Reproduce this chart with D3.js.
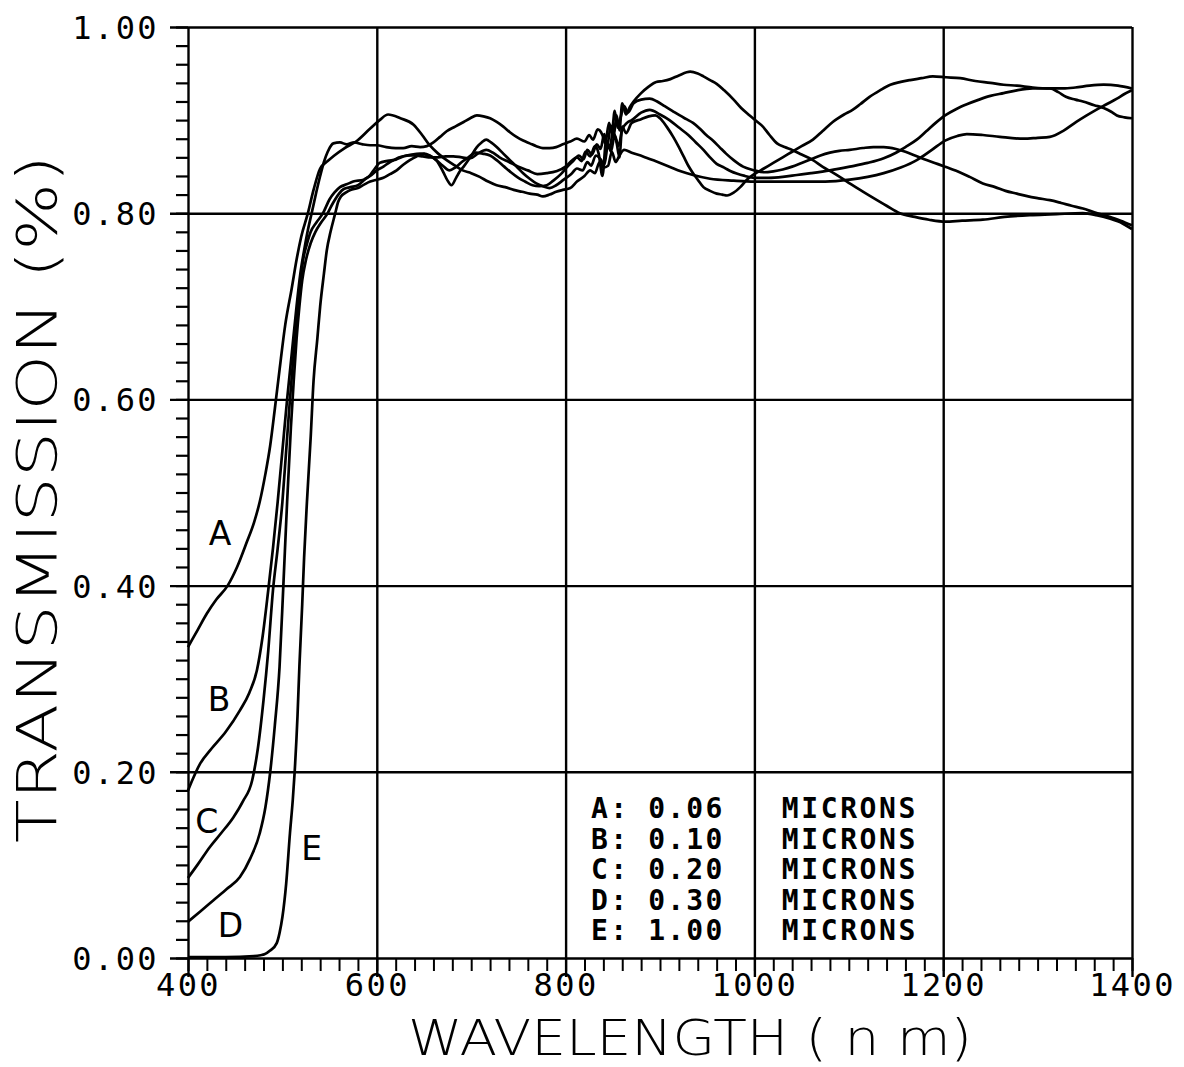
<!DOCTYPE html>
<html>
<head>
<meta charset="utf-8">
<script src="https://cdn.jsdelivr.net/npm/d3@7"></script>
<style>
  body { margin: 0; background: #fff; }
  svg { display: block; }
</style>
</head>
<body>
<svg id="chart" width="1184" height="1067"></svg>
<script>
// Transmission spectra of films of five thicknesses: [wavelength nm, transmission]
const curveA = [[400,0.334],[410,0.352],[420,0.37],[430,0.385],[442,0.40],[452,0.42],[462,0.446],[470,0.468],[476,0.49],[482,0.52],[487,0.55],[492,0.59],[497,0.632],[503,0.68],[510,0.72],[515,0.75],[520,0.775],[527,0.80],[533,0.825],[540,0.848],[548,0.856],[555,0.862],[566,0.87],[578,0.877],[593,0.891],[603,0.9],[612,0.906],[625,0.902],[639,0.895],[648,0.884],[656,0.873],[665,0.864],[674,0.857],[683,0.851],[691,0.846],[700,0.843],[709,0.839],[718,0.834],[727,0.83],[736,0.828],[745,0.825],[754,0.823],[762,0.821],[770,0.82],[776,0.818],[783,0.82],[790,0.823],[797,0.825],[805,0.827],[812,0.834],[820,0.84],[826,0.846],[831,0.843],[836,0.855],[840,0.849],[845,0.851],[849,0.866],[853,0.855],[857,0.862],[862,0.868],[870,0.865],[882,0.861],[895,0.856],[910,0.85],[922,0.845],[935,0.841],[953,0.837],[978,0.835],[1000,0.834],[1025,0.834],[1050,0.834],[1075,0.834],[1101,0.836],[1120,0.839],[1137,0.843],[1155,0.849],[1172,0.857],[1188,0.868],[1202,0.878],[1215,0.883],[1225,0.885],[1242,0.884],[1260,0.882],[1285,0.88],[1300,0.881],[1313,0.882],[1328,0.889],[1341,0.898],[1352,0.905],[1362,0.911],[1373,0.917],[1384,0.923],[1392,0.928],[1400,0.932]];

const curveB = [[400,0.18],[413,0.209],[425,0.225],[440,0.243],[455,0.266],[465,0.285],[473,0.309],[479,0.345],[485,0.395],[490,0.44],[495,0.49],[500,0.545],[505,0.6],[510,0.65],[515,0.70],[519,0.735],[523,0.76],[527,0.782],[531,0.80],[536,0.823],[540,0.84],[544,0.855],[548,0.866],[554,0.875],[561,0.876],[568,0.874],[576,0.876],[585,0.874],[593,0.873],[600,0.873],[610,0.871],[620,0.87],[628,0.87],[637,0.872],[646,0.871],[653,0.872],[660,0.876],[667,0.882],[674,0.888],[683,0.893],[692,0.898],[699,0.902],[706,0.905],[713,0.904],[720,0.902],[727,0.898],[734,0.893],[741,0.887],[748,0.882],[755,0.878],[762,0.875],[769,0.872],[776,0.87],[783,0.87],[790,0.871],[797,0.874],[805,0.877],[812,0.88],[820,0.877],[825,0.884],[829,0.879],[834,0.89],[839,0.884],[842,0.875],[846,0.897],[849,0.886],[852,0.91],[855,0.892],[858,0.902],[862,0.915],[866,0.908],[872,0.918],[880,0.922],[889,0.923],[897,0.92],[905,0.915],[913,0.91],[921,0.905],[928,0.901],[935,0.897],[942,0.891],[949,0.884],[956,0.878],[963,0.871],[970,0.864],[978,0.857],[988,0.85],[1000,0.846],[1010,0.844],[1020,0.845],[1030,0.847],[1040,0.85],[1050,0.854],[1060,0.858],[1070,0.862],[1080,0.865],[1090,0.867],[1101,0.868],[1115,0.87],[1126,0.871],[1137,0.871],[1150,0.869],[1160,0.866],[1170,0.862],[1180,0.858],[1191,0.854],[1202,0.85],[1215,0.845],[1228,0.839],[1242,0.832],[1255,0.828],[1266,0.824],[1278,0.821],[1290,0.818],[1301,0.816],[1313,0.814],[1325,0.811],[1336,0.808],[1348,0.805],[1360,0.801],[1370,0.798],[1377,0.796],[1388,0.792],[1400,0.787]];

const curveC = [[400,0.086],[410,0.1],[423,0.119],[435,0.134],[448,0.151],[458,0.168],[468,0.191],[474,0.225],[480,0.277],[485,0.33],[490,0.395],[495,0.44],[500,0.49],[504,0.545],[508,0.6],[512,0.65],[516,0.70],[519,0.725],[522,0.75],[526,0.767],[530,0.78],[536,0.79],[543,0.80],[550,0.815],[555,0.822],[561,0.828],[568,0.831],[575,0.834],[586,0.836],[593,0.84],[600,0.846],[607,0.85],[614,0.855],[621,0.858],[628,0.861],[637,0.863],[646,0.864],[655,0.862],[663,0.857],[670,0.845],[675,0.835],[679,0.830],[684,0.838],[688,0.845],[692,0.85],[699,0.86],[706,0.871],[711,0.876],[716,0.879],[721,0.876],[727,0.871],[734,0.864],[741,0.857],[748,0.85],[755,0.843],[762,0.837],[769,0.832],[776,0.829],[783,0.827],[790,0.83],[798,0.836],[806,0.842],[812,0.848],[818,0.846],[823,0.855],[827,0.851],[832,0.862],[837,0.858],[841,0.852],[845,0.874],[848,0.866],[852,0.884],[856,0.872],[860,0.89],[865,0.897],[870,0.9],[880,0.908],[889,0.911],[900,0.906],[910,0.9],[920,0.892],[930,0.884],[938,0.876],[946,0.868],[953,0.86],[960,0.853],[968,0.849],[975,0.845],[990,0.84],[1000,0.838],[1015,0.838],[1030,0.839],[1045,0.841],[1060,0.843],[1080,0.846],[1101,0.85],[1120,0.854],[1137,0.859],[1150,0.865],[1160,0.871],[1172,0.879],[1182,0.888],[1192,0.897],[1202,0.905],[1214,0.912],[1225,0.917],[1238,0.922],[1250,0.926],[1264,0.929],[1278,0.932],[1295,0.934],[1313,0.934],[1322,0.93],[1330,0.925],[1340,0.922],[1348,0.92],[1360,0.916],[1370,0.913],[1378,0.909],[1384,0.905],[1392,0.903],[1400,0.902]];

const curveD = [[400,0.039],[413,0.05],[427,0.062],[441,0.074],[455,0.087],[466,0.107],[476,0.134],[482,0.162],[487,0.199],[492,0.25],[497,0.313],[501,0.4],[505,0.49],[509,0.57],[512,0.62],[515,0.665],[518,0.70],[521,0.728],[525,0.75],[530,0.768],[535,0.78],[541,0.79],[548,0.80],[552,0.808],[556,0.815],[560,0.821],[565,0.826],[572,0.828],[580,0.83],[587,0.836],[593,0.841],[598,0.848],[603,0.854],[610,0.856],[617,0.857],[624,0.86],[632,0.862],[640,0.862],[649,0.861],[657,0.86],[665,0.86],[673,0.861],[681,0.861],[690,0.86],[699,0.859],[707,0.864],[716,0.868],[723,0.865],[730,0.86],[740,0.855],[750,0.85],[760,0.846],[770,0.842],[780,0.843],[790,0.845],[800,0.85],[806,0.856],[812,0.86],[817,0.856],[821,0.866],[826,0.861],[831,0.872],[835,0.864],[839,0.84],[843,0.878],[847,0.87],[850,0.888],[854,0.876],[857,0.86],[860,0.893],[864,0.886],[870,0.897],[880,0.901],[888,0.904],[895,0.905],[900,0.902],[907,0.893],[914,0.882],[920,0.871],[925,0.861],[930,0.851],[935,0.843],[940,0.836],[946,0.828],[953,0.824],[960,0.821],[966,0.82],[971,0.819],[978,0.822],[985,0.828],[992,0.836],[1000,0.842],[1010,0.848],[1020,0.854],[1030,0.86],[1040,0.866],[1050,0.872],[1062,0.879],[1072,0.888],[1083,0.898],[1095,0.906],[1104,0.911],[1112,0.917],[1122,0.925],[1133,0.932],[1144,0.938],[1155,0.941],[1165,0.943],[1177,0.945],[1189,0.947],[1203,0.946],[1218,0.945],[1234,0.942],[1250,0.94],[1264,0.938],[1278,0.937],[1295,0.935],[1313,0.934],[1327,0.934],[1340,0.935],[1355,0.937],[1370,0.938],[1385,0.937],[1400,0.934]];

const curveE = [[400,0.001],[440,0.001],[470,0.002],[477,0.003],[481,0.004],[487,0.008],[494,0.016],[497,0.027],[500,0.044],[504,0.08],[508,0.134],[511,0.17],[513,0.2],[516,0.26],[518,0.313],[521,0.38],[523,0.43],[526,0.49],[530,0.56],[533,0.62],[537,0.665],[540,0.70],[544,0.735],[547,0.76],[551,0.78],[556,0.80],[559,0.812],[562,0.818],[567,0.822],[572,0.825],[580,0.827],[587,0.831],[593,0.834],[600,0.836],[607,0.838],[614,0.842],[621,0.846],[628,0.852],[635,0.857],[642,0.861],[650,0.864],[656,0.862],[663,0.857],[670,0.851],[677,0.846],[683,0.849],[690,0.855],[697,0.86],[705,0.865],[712,0.864],[720,0.862],[727,0.857],[735,0.85],[742,0.844],[750,0.838],[757,0.834],[765,0.83],[772,0.829],[780,0.83],[787,0.835],[795,0.842],[802,0.85],[808,0.856],[814,0.862],[819,0.858],[823,0.868],[828,0.863],[833,0.874],[837,0.869],[841,0.885],[844,0.872],[848,0.894],[851,0.883],[854,0.905],[857,0.889],[860,0.918],[864,0.906],[868,0.914],[872,0.92],[880,0.929],[888,0.936],[896,0.941],[903,0.942],[911,0.944],[920,0.948],[932,0.952],[940,0.95],[946,0.947],[953,0.943],[960,0.939],[968,0.932],[978,0.922],[986,0.913],[995,0.905],[1002,0.899],[1009,0.893],[1016,0.884],[1024,0.875],[1032,0.871],[1040,0.868],[1050,0.863],[1062,0.857],[1072,0.85],[1084,0.843],[1098,0.834],[1112,0.825],[1125,0.817],[1140,0.808],[1154,0.80],[1170,0.796],[1185,0.793],[1202,0.791],[1220,0.792],[1242,0.793],[1265,0.796],[1295,0.798],[1320,0.799],[1348,0.80],[1362,0.798],[1377,0.794],[1390,0.789],[1400,0.783]];

const seriesNames = ["A", "B", "C", "D", "E"];
const thicknesses = ["0.06", "0.10", "0.20", "0.30", "1.00"];
const xTicks = [400, 600, 800, 1000, 1200, 1400];
const xTickLabels = ["400", "600", "800", "1000", "1200", "1400"];
const yTicks = [0, 0.2, 0.4, 0.6, 0.8, 1.0];
const yTickLabels = ["0.00", "0.20", "0.40", "0.60", "0.80", "1.00"];

const curves = [curveA, curveB, curveC, curveD, curveE];

const svg = d3.select("#chart");
const W = 1184, H = 1067;
svg.append("rect").attr("width", W).attr("height", H).attr("fill", "#fff");

const plot = { left: 188, right: 1132, top: 27, bottom: 958 };
const x = d3.scaleLinear().domain([400, 1400]).range([plot.left, plot.right]);
const y = d3.scaleLinear().domain([0, 1]).range([plot.bottom, plot.top]);

const MONO = "'DejaVu Sans Mono', monospace";
const THIN = "'DejaVu Sans ExtraLight', 'DejaVu Sans', sans-serif";
const ink = "#000";

// Grid: horizontal lines run out past the left axis as the major ticks
svg.append("g")
  .attr("transform", `translate(${plot.left - 18},0)`)
  .call(d3.axisLeft(y).tickValues(yTicks).tickSize(-(plot.right - plot.left + 18)).tickFormat(""))
  .call(g => g.select(".domain").remove())
  .call(g => g.selectAll("line").attr("stroke", ink).attr("stroke-width", 2.4));

// Vertical grid lines, extending below the axis as the major ticks
svg.append("g")
  .attr("transform", `translate(0,${plot.bottom + 19})`)
  .call(d3.axisBottom(x).tickValues(xTicks).tickSize(-(plot.bottom + 19 - plot.top)).tickFormat(""))
  .call(g => g.select(".domain").remove())
  .call(g => g.selectAll("line").attr("stroke", ink).attr("stroke-width", 2.4));

// Minor ticks
svg.append("g")
  .attr("transform", `translate(${plot.left},0)`)
  .call(d3.axisLeft(y).tickValues(d3.range(0, 1.0001, 0.02)).tickSize(12).tickFormat(""))
  .call(g => g.select(".domain").remove())
  .call(g => g.selectAll("line").attr("stroke", ink).attr("stroke-width", 2.2));

svg.append("g")
  .attr("transform", `translate(0,${plot.bottom})`)
  .call(d3.axisBottom(x).tickValues(d3.range(400, 1400.1, 20)).tickSize(13).tickFormat(""))
  .call(g => g.select(".domain").remove())
  .call(g => g.selectAll("line").attr("stroke", ink).attr("stroke-width", 2.0));

// Tick labels
svg.append("g")
  .attr("transform", `translate(${plot.left - 18},0)`)
  .call(d3.axisLeft(y).tickValues(yTicks).tickSize(0).tickPadding(11)
        .tickFormat((d, i) => yTickLabels[i]))
  .call(g => g.select(".domain").remove())
  .call(g => g.selectAll("text")
      .attr("font-family", MONO).attr("font-size", 32).attr("fill", ink)
      .attr("dy", "0.36em").style("letter-spacing", "2.4px"));

svg.append("g")
  .attr("transform", `translate(0,${plot.bottom})`)
  .call(d3.axisBottom(x).tickValues(xTicks).tickSize(0).tickPadding(15)
        .tickFormat((d, i) => xTickLabels[i]))
  .call(g => g.select(".domain").remove())
  .call(g => g.selectAll("text")
      .attr("font-family", MONO).attr("font-size", 32).attr("fill", ink)
      .attr("dy", "0.71em").style("letter-spacing", "2.4px"));

// Spectra
const line = d3.line().x(d => x(d[0])).y(d => y(d[1])).curve(d3.curveMonotoneX);
svg.append("g")
  .selectAll("path")
  .data(curves)
  .join("path")
  .attr("d", line)
  .attr("fill", "none")
  .attr("stroke", ink)
  .attr("stroke-width", 2.7)
  .attr("stroke-linejoin", "round");

// Curve letters
const curveLabelAt = [[434, 0.456], [433, 0.278], [420, 0.147], [445, 0.035], [531, 0.118]];
svg.append("g")
  .selectAll("text")
  .data(seriesNames)
  .join("text")
  .attr("x", (d, i) => x(curveLabelAt[i][0]))
  .attr("y", (d, i) => y(curveLabelAt[i][1]))
  .attr("dy", "0.36em")
  .attr("text-anchor", "middle")
  .attr("font-family", "'DejaVu Sans', sans-serif")
  .attr("font-size", 33)
  .attr("fill", ink)
  .text(d => d);

// Legend of film thicknesses
const legend = svg.append("g")
  .attr("font-family", MONO).attr("font-weight", "bold")
  .attr("font-size", 28).attr("fill", ink);
const legendTop = 808, legendStep = 30.5;
legend.selectAll("text.val")
  .data(seriesNames)
  .join("text")
  .attr("class", "val")
  .attr("x", x(827))
  .attr("y", (d, i) => legendTop + i * legendStep)
  .attr("dy", "0.36em")
  .style("letter-spacing", "2.2px")
  .attr("xml:space", "preserve")
  .text((d, i) => `${d}: ${thicknesses[i]}`);
legend.selectAll("text.unit")
  .data(seriesNames)
  .join("text")
  .attr("class", "unit")
  .attr("x", x(1029))
  .attr("y", (d, i) => legendTop + i * legendStep)
  .attr("dy", "0.36em")
  .style("letter-spacing", "2.6px")
  .text("MICRONS");

// Axis titles
svg.append("text")
  .attr("x", 408).attr("y", 1055)
  .attr("font-family", THIN).attr("font-weight", 200).attr("font-size", 50).attr("fill", ink)
  .attr("textLength", 564).attr("lengthAdjust", "spacingAndGlyphs")
  .attr("xml:space", "preserve")
  .text("WAVELENGTH ( n m)");

svg.append("text")
  .attr("transform", "translate(56,843) rotate(-90)")
  .attr("font-family", THIN).attr("font-weight", 200).attr("font-size", 56).attr("fill", ink)
  .attr("textLength", 688).attr("lengthAdjust", "spacingAndGlyphs")
  .text("TRANSMISSION (%)");
</script>
</body>
</html>
